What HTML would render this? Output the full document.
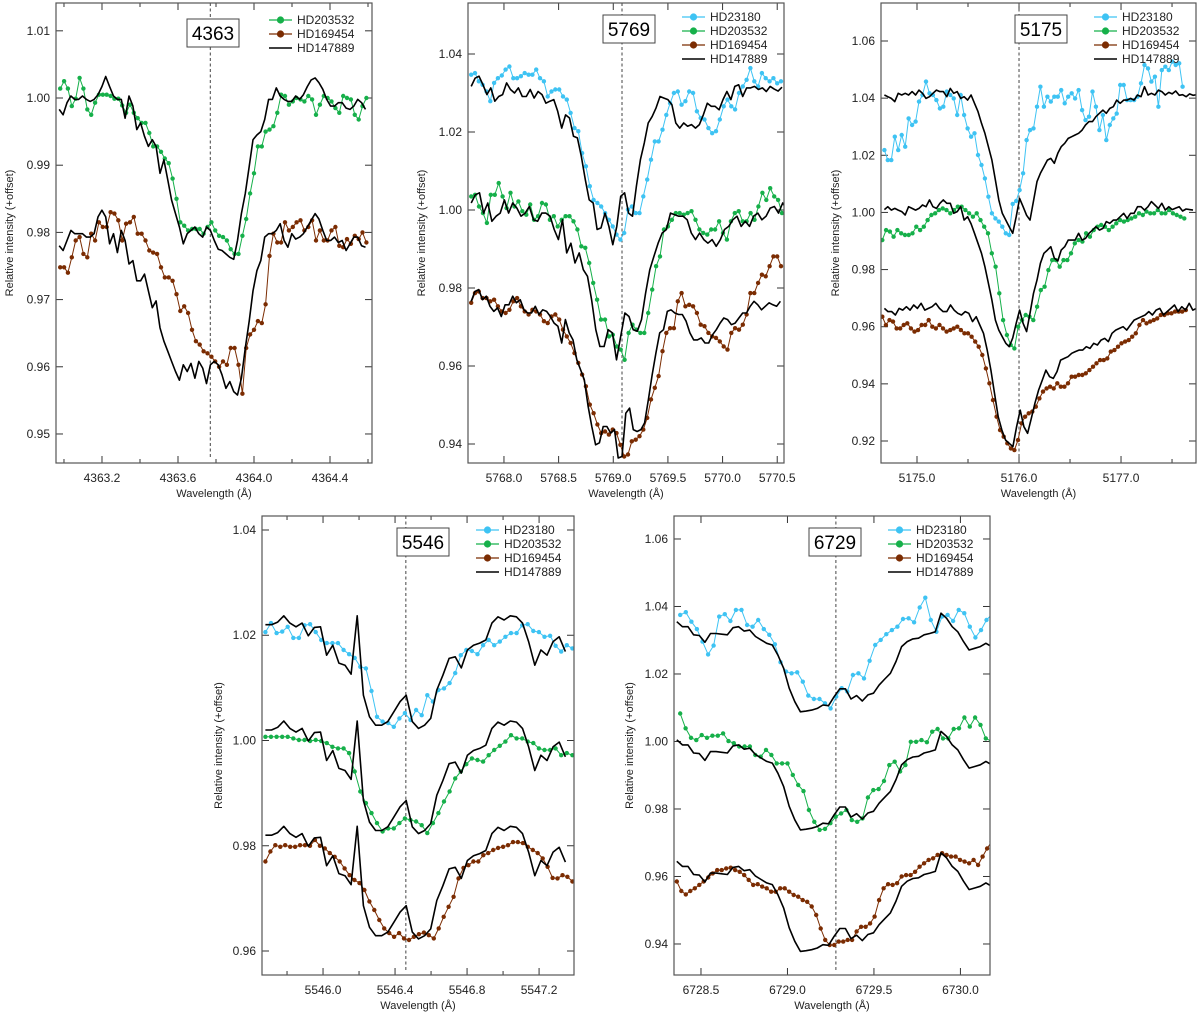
<!DOCTYPE html>
<html><head><meta charset="utf-8"><title>Spectra</title>
<style>
html,body{margin:0;padding:0;background:#fff;}
svg{display:block;font-family:"Liberation Sans",sans-serif;}
</style></head>
<body>
<svg id="chart" xmlns="http://www.w3.org/2000/svg" width="1200" height="1017" viewBox="0 0 1200 1017"></svg>
<script>
// ---------- DATA ----------
// Panel 4363
const p1Green = [1.0014,1.0025,1.0014,0.9988,0.9999,1.0030,1.0014,0.9983,0.9975,0.9993,1.0005,1.0005,1.0005,1.0003,0.9999,0.9999,0.9989,0.9978,0.9990,0.9978,0.9970,0.9963,0.9963,0.9948,0.9928,0.9928,0.9920,0.9910,0.9903,0.9880,0.9850,0.9815,0.9810,0.9803,0.9805,0.9805,0.9805,0.9798,0.9808,0.9815,0.9803,0.9795,0.9793,0.9788,0.9775,0.9768,0.9768,0.9795,0.9820,0.9858,0.9888,0.9928,0.9928,0.9950,0.9953,0.9958,0.9978,1.0005,1.0003,0.9990,0.9995,1.0000,0.9998,0.9995,1.0003,0.9998,0.9975,0.9990,1.0003,1.0000,0.9995,0.9985,0.9978,1.0003,1.0000,0.9998,0.9975,0.9968,0.9988,1.0000];
const p1BlackTop = [0.9983,0.9975,0.9993,1.0003,0.9998,0.9998,1.0003,0.9998,0.9995,0.9998,1.0005,1.0017,1.0032,1.0017,1.0003,0.9998,0.9998,0.9970,1.0003,0.9988,0.9953,0.9963,0.9943,0.9928,0.9938,0.9928,0.9888,0.9908,0.9878,0.9848,0.9828,0.9808,0.9783,0.9798,0.9803,0.9808,0.9798,0.9793,0.9808,0.9803,0.9788,0.9775,0.9773,0.9768,0.9763,0.9760,0.9788,0.9828,0.9858,0.9898,0.9938,0.9945,0.9950,0.9968,0.9998,0.9998,1.0015,1.0003,0.9998,0.9995,0.9995,1.0003,0.9998,1.0005,1.0017,1.0027,1.0030,1.0023,1.0013,0.9998,0.9988,0.9988,0.9993,0.9993,0.9985,0.9983,0.9988,0.9998,0.9993,0.9983];
const p1Brown = [0.9748,0.9748,0.9740,0.9763,0.9788,0.9793,0.9768,0.9763,0.9798,0.9788,0.9815,0.9808,0.9808,0.9830,0.9828,0.9818,0.9788,0.9813,0.9815,0.9823,0.9798,0.9798,0.9788,0.9773,0.9770,0.9768,0.9748,0.9733,0.9733,0.9728,0.9708,0.9683,0.9690,0.9680,0.9655,0.9638,0.9633,0.9623,0.9620,0.9615,0.9608,0.9600,0.9608,0.9603,0.9628,0.9628,0.9603,0.9560,0.9628,0.9648,0.9655,0.9668,0.9665,0.9693,0.9765,0.9798,0.9785,0.9785,0.9815,0.9803,0.9808,0.9815,0.9818,0.9803,0.9808,0.9818,0.9788,0.9803,0.9788,0.9788,0.9803,0.9808,0.9780,0.9778,0.9790,0.9783,0.9795,0.9790,0.9800,0.9785];
const p1BlackLow = [0.9780,0.9773,0.9788,0.9803,0.9798,0.9798,0.9798,0.9793,0.9793,0.9798,0.9823,0.9833,0.9823,0.9783,0.9798,0.9770,0.9803,0.9788,0.9753,0.9758,0.9728,0.9728,0.9738,0.9713,0.9688,0.9698,0.9658,0.9638,0.9623,0.9608,0.9593,0.9580,0.9603,0.9593,0.9605,0.9583,0.9608,0.9598,0.9575,0.9603,0.9608,0.9603,0.9588,0.9568,0.9578,0.9563,0.9558,0.9583,0.9628,0.9668,0.9713,0.9743,0.9758,0.9793,0.9798,0.9798,0.9803,0.9813,0.9788,0.9778,0.9798,0.9790,0.9793,0.9798,0.9808,0.9818,0.9828,0.9820,0.9803,0.9788,0.9788,0.9793,0.9785,0.9788,0.9773,0.9783,0.9793,0.9793,0.9780,0.9778];
// Panel 5769
const p2Cyan = [1.0347,1.0351,1.0330,1.0321,1.0304,1.0279,1.0326,1.0338,1.0345,1.0360,1.0368,1.0338,1.0338,1.0343,1.0351,1.0347,1.0347,1.0360,1.0338,1.0330,1.0291,1.0304,1.0309,1.0309,1.0291,1.0283,1.0249,1.0210,1.0202,1.0146,1.0112,1.0061,1.0026,1.0018,1.0009,0.9992,0.9975,0.9958,0.9937,0.9924,0.9941,1.0001,1.0009,0.9992,0.9992,1.0035,1.0078,1.0129,1.0176,1.0176,1.0206,1.0244,1.0274,1.0300,1.0304,1.0270,1.0279,1.0304,1.0300,1.0253,1.0236,1.0232,1.0210,1.0197,1.0202,1.0232,1.0266,1.0283,1.0266,1.0258,1.0300,1.0317,1.0334,1.0364,1.0330,1.0317,1.0351,1.0338,1.0330,1.0338,1.0325,1.0330];
const p2BlackTop = [1.0317,1.0338,1.0343,1.0321,1.0296,1.0313,1.0279,1.0291,1.0296,1.0326,1.0309,1.0300,1.0313,1.0291,1.0291,1.0309,1.0287,1.0304,1.0296,1.0274,1.0279,1.0283,1.0253,1.0210,1.0244,1.0236,1.0189,1.0185,1.0138,1.0078,1.0026,1.0018,0.9950,0.9954,0.9992,0.9958,0.9911,0.9958,1.0035,1.0044,0.9992,0.9984,1.0061,1.0129,1.0172,1.0223,1.0240,1.0262,1.0291,1.0287,1.0283,1.0270,1.0223,1.0210,1.0223,1.0215,1.0219,1.0210,1.0219,1.0244,1.0274,1.0266,1.0266,1.0257,1.0283,1.0304,1.0283,1.0317,1.0321,1.0291,1.0313,1.0313,1.0317,1.0309,1.0313,1.0304,1.0317,1.0310,1.0305,1.0315];
const p2Green = [1.0035,1.0039,1.0009,0.9992,0.9967,1.0039,1.0039,1.0069,1.0035,1.0005,1.0044,1.0009,1.0022,0.9997,0.9988,1.0014,0.9975,0.9984,1.0018,1.0014,0.9975,0.9984,0.9958,0.9975,0.9984,0.9984,0.9971,0.9950,0.9907,0.9903,0.9864,0.9813,0.9770,0.9719,0.9719,0.9676,0.9680,0.9650,0.9642,0.9616,0.9685,0.9706,0.9693,0.9685,0.9685,0.9736,0.9796,0.9856,0.9881,0.9950,0.9958,0.9975,0.9992,0.9992,0.9988,0.9992,0.9997,0.9975,0.9950,0.9941,0.9937,0.9950,0.9950,0.9971,0.9941,0.9924,0.9971,0.9992,0.9997,0.9971,0.9971,0.9992,0.9975,1.0009,1.0044,1.0026,1.0056,1.0035,1.0026,0.9992];
const p2BlackMid = [1.0018,1.0039,1.0044,0.9992,1.0018,0.9971,0.9984,0.9992,1.0026,0.9992,1.0018,1.0005,0.9984,0.9992,1.0009,0.9975,0.9971,0.9992,0.9992,0.9984,0.9950,0.9924,0.9975,0.9890,0.9915,0.9864,0.9890,0.9847,0.9830,0.9770,0.9693,0.9650,0.9650,0.9693,0.9685,0.9616,0.9676,0.9736,0.9727,0.9693,0.9689,0.9719,0.9787,0.9847,0.9881,0.9915,0.9941,0.9950,0.9992,0.9988,0.9984,0.9984,0.9975,0.9941,0.9924,0.9941,0.9924,0.9915,0.9924,0.9907,0.9924,0.9950,0.9958,0.9975,0.9984,0.9958,0.9971,0.9958,0.9984,0.9992,0.9975,0.9984,1.0005,1.0009,0.9992,1.0018,1.0001,0.9992,0.9997,1.0014];
const p2Brown = [0.9762,0.9787,0.9791,0.9774,0.9774,0.9766,0.9770,0.9753,0.9740,0.9736,0.9744,0.9766,0.9774,0.9753,0.9740,0.9732,0.9744,0.9740,0.9732,0.9715,0.9710,0.9727,0.9732,0.9719,0.9693,0.9676,0.9659,0.9633,0.9608,0.9578,0.9548,0.9501,0.9479,0.9450,0.9428,0.9432,0.9424,0.9437,0.9428,0.9398,0.9368,0.9373,0.9407,0.9411,0.9420,0.9437,0.9467,0.9514,0.9544,0.9574,0.9638,0.9685,0.9697,0.9697,0.9766,0.9787,0.9753,0.9757,0.9753,0.9736,0.9706,0.9702,0.9685,0.9676,0.9672,0.9663,0.9650,0.9642,0.9685,0.9697,0.9693,0.9706,0.9732,0.9787,0.9787,0.9813,0.9834,0.9830,0.9856,0.9881,0.9881,0.9856];
const p2BlackLow = [0.9766,0.9791,0.9796,0.9770,0.9779,0.9753,0.9740,0.9749,0.9727,0.9757,0.9757,0.9779,0.9762,0.9770,0.9744,0.9736,0.9736,0.9753,0.9732,0.9744,0.9740,0.9727,0.9710,0.9702,0.9659,0.9719,0.9685,0.9667,0.9616,0.9591,0.9565,0.9497,0.9445,0.9398,0.9403,0.9445,0.9445,0.9428,0.9437,0.9364,0.9368,0.9479,0.9492,0.9437,0.9432,0.9437,0.9454,0.9514,0.9578,0.9633,0.9685,0.9693,0.9740,0.9744,0.9736,0.9732,0.9732,0.9715,0.9685,0.9667,0.9667,0.9672,0.9659,0.9659,0.9680,0.9693,0.9710,0.9723,0.9719,0.9706,0.9710,0.9723,0.9736,0.9736,0.9753,0.9766,0.9757,0.9744,0.9753,0.9762,0.9757,0.9753,0.9766];
// Panel 5175
const p3Cyan = [1.0218,1.0183,1.0183,1.0265,1.0218,1.0271,1.0230,1.0329,1.0306,1.0318,1.0388,1.0411,1.0458,1.0417,1.0411,1.0393,1.0364,1.0370,1.0423,1.0411,1.0399,1.0341,1.0411,1.0341,1.0294,1.0265,1.0277,1.0201,1.0166,1.0119,1.0055,0.9997,0.9979,0.9968,0.9950,0.9927,0.9921,1.0030,1.0040,1.0078,1.0137,1.0253,1.0288,1.0294,1.0370,1.0440,1.0370,1.0405,1.0388,1.0405,1.0405,1.0428,1.0382,1.0405,1.0417,1.0399,1.0428,1.0358,1.0323,1.0335,1.0423,1.0370,1.0288,1.0341,1.0253,1.0306,1.0329,1.0346,1.0446,1.0446,1.0393,1.0393,1.0393,1.0405,1.0452,1.0516,1.0504,1.0458,1.0475,1.0370,1.0498,1.0510,1.0498,1.0528,1.0516,1.0522,1.0440];
const p3BlackTop = [1.0411,1.0405,1.0399,1.0388,1.0417,1.0411,1.0417,1.0411,1.0423,1.0411,1.0428,1.0417,1.0399,1.0405,1.0417,1.0428,1.0423,1.0423,1.0405,1.0434,1.0417,1.0423,1.0399,1.0405,1.0393,1.0411,1.0382,1.0353,1.0312,1.0277,1.0230,1.0183,1.0113,1.0044,0.9997,0.9973,0.9950,0.9927,0.9985,1.0049,1.0020,0.9990,0.9973,1.0040,1.0108,1.0137,1.0160,1.0183,1.0189,1.0172,1.0207,1.0230,1.0242,1.0259,1.0265,1.0271,1.0277,1.0288,1.0306,1.0318,1.0318,1.0335,1.0347,1.0358,1.0347,1.0364,1.0370,1.0393,1.0382,1.0393,1.0393,1.0399,1.0393,1.0411,1.0405,1.0440,1.0411,1.0417,1.0411,1.0428,1.0423,1.0411,1.0420,1.0415,1.0425,1.0410,1.0412,1.0405,1.0415,1.0410,1.0412];
const p3Green = [0.9903,0.9938,0.9933,0.9915,0.9938,0.9927,0.9921,0.9921,0.9927,0.9950,0.9938,0.9950,0.9973,0.9991,0.9997,1.0008,1.0014,1.0008,0.9997,1.0008,1.0020,1.0020,1.0008,0.9997,0.9985,0.9997,0.9973,0.9950,0.9927,0.9857,0.9810,0.9717,0.9623,0.9571,0.9536,0.9524,0.9600,0.9623,0.9641,0.9635,0.9623,0.9670,0.9728,0.9740,0.9798,0.9833,0.9833,0.9810,0.9833,0.9833,0.9857,0.9892,0.9903,0.9898,0.9927,0.9915,0.9938,0.9950,0.9956,0.9950,0.9938,0.9950,0.9962,0.9973,0.9968,0.9973,0.9979,0.9985,0.9997,0.9991,1.0003,0.9997,0.9997,1.0008,0.9997,0.9997,1.0008,0.9997,0.9991,0.9985,0.9979];
const p3BlackMid = [1.0010,1.0020,1.0008,1.0014,1.0008,1.0003,0.9991,1.0020,1.0014,1.0008,1.0014,1.0026,1.0020,1.0044,1.0020,1.0014,1.0032,1.0044,1.0032,1.0032,0.9997,1.0003,1.0020,0.9973,0.9985,0.9960,0.9927,0.9892,0.9857,0.9810,0.9752,0.9693,0.9623,0.9588,0.9565,0.9542,0.9530,0.9560,0.9612,0.9658,0.9612,0.9583,0.9647,0.9717,0.9763,0.9822,0.9857,0.9868,0.9880,0.9840,0.9830,0.9868,0.9880,0.9903,0.9903,0.9903,0.9927,0.9903,0.9909,0.9927,0.9938,0.9950,0.9938,0.9944,0.9968,0.9962,0.9973,0.9973,0.9985,0.9997,0.9979,0.9997,0.9997,1.0020,1.0020,1.0008,1.0020,1.0038,1.0026,1.0014,1.0032,1.0008,1.0020,1.0010,1.0015,1.0020,1.0005,1.0012,1.0010,1.0008];
const p3Brown = [0.9635,0.9606,0.9623,0.9618,0.9594,0.9594,0.9606,0.9612,0.9594,0.9583,0.9588,0.9606,0.9606,0.9623,0.9600,0.9594,0.9606,0.9594,0.9583,0.9588,0.9594,0.9600,0.9588,0.9577,0.9577,0.9565,0.9548,0.9530,0.9501,0.9454,0.9402,0.9343,0.9285,0.9238,0.9215,0.9192,0.9174,0.9168,0.9203,0.9262,0.9285,0.9297,0.9303,0.9320,0.9349,0.9373,0.9384,0.9390,0.9384,0.9402,0.9390,0.9390,0.9402,0.9425,0.9425,0.9431,0.9431,0.9437,0.9448,0.9460,0.9472,0.9483,0.9483,0.9489,0.9513,0.9518,0.9530,0.9542,0.9548,0.9553,0.9565,0.9577,0.9606,0.9623,0.9612,0.9618,0.9623,0.9629,0.9641,0.9641,0.9647,0.9647,0.9653,0.9653,0.9653,0.9658];
const p3BlackLow = [0.9664,0.9653,0.9653,0.9641,0.9664,0.9658,0.9670,0.9658,0.9676,0.9664,0.9682,0.9658,0.9664,0.9670,0.9682,0.9664,0.9653,0.9653,0.9676,0.9658,0.9647,0.9641,0.9653,0.9647,0.9618,0.9635,0.9606,0.9577,0.9518,0.9448,0.9367,0.9285,0.9238,0.9203,0.9192,0.9180,0.9250,0.9308,0.9250,0.9227,0.9279,0.9332,0.9378,0.9413,0.9448,0.9425,0.9419,0.9443,0.9483,0.9489,0.9495,0.9507,0.9513,0.9518,0.9518,0.9530,0.9524,0.9542,0.9536,0.9553,0.9559,0.9548,0.9577,0.9588,0.9594,0.9600,0.9588,0.9606,0.9623,0.9629,0.9635,0.9641,0.9653,0.9641,0.9658,0.9664,0.9641,0.9653,0.9664,0.9676,0.9653,0.9670,0.9658,0.9682,0.9658,0.9664];
// Panel 5546
const p4Cyan = [1.0206,1.0223,1.0204,1.0207,1.0216,1.0195,1.0195,1.0219,1.0221,1.0206,1.0191,1.0185,1.0185,1.0185,1.0172,1.0164,1.0157,1.0140,1.0137,1.0094,1.0045,1.0036,1.0033,1.0026,1.0042,1.0052,1.0039,1.0058,1.0048,1.0086,1.0074,1.0096,1.0099,1.0109,1.0128,1.0162,1.0172,1.0170,1.0164,1.0181,1.0191,1.0181,1.0188,1.0197,1.0204,1.0204,1.0219,1.0221,1.0208,1.0206,1.0197,1.0199,1.0180,1.0169,1.0181,1.0175,1.0169];
const p4Green = [1.0007,1.0007,1.0007,1.0007,1.0007,1.0004,1.0001,1.0001,0.9999,1.0001,0.9999,0.9995,0.9988,0.9985,0.9985,0.9976,0.9941,0.9903,0.9881,0.9862,0.9843,0.9827,0.9833,0.9833,0.9843,0.9852,0.9849,0.9846,0.9839,0.9824,0.9843,0.9862,0.9884,0.9903,0.9928,0.9941,0.9955,0.9966,0.9963,0.9960,0.9972,0.9982,0.9990,0.9998,1.0010,1.0004,1.0004,0.9998,0.9995,0.9985,0.9982,0.9982,0.9985,0.9972,0.9976,0.9972];
const p4Brown = [0.9770,0.9789,0.9801,0.9798,0.9801,0.9798,0.9798,0.9801,0.9801,0.9800,0.9811,0.9800,0.9795,0.9786,0.9779,0.9770,0.9757,0.9744,0.9735,0.9729,0.9716,0.9694,0.9678,0.9659,0.9643,0.9634,0.9627,0.9634,0.9624,0.9621,0.9627,0.9632,0.9635,0.9630,0.9624,0.9643,0.9665,0.9684,0.9703,0.9738,0.9758,0.9763,0.9770,0.9770,0.9782,0.9786,0.9792,0.9796,0.9798,0.9801,0.9807,0.9807,0.9805,0.9798,0.9792,0.9786,0.9776,0.9760,0.9739,0.9738,0.9744,0.9741,0.9732];
const p4Black = [1.0220,1.0220,1.0225,1.0237,1.0223,1.0216,1.0223,1.0199,1.0215,1.0216,1.0162,1.0181,1.0147,1.0143,1.0126,1.0237,1.0086,1.0045,1.0029,1.0029,1.0036,1.0055,1.0074,1.0086,1.0036,1.0023,1.0029,1.0042,1.0096,1.0124,1.0156,1.0159,1.0138,1.0172,1.0181,1.0185,1.0191,1.0223,1.0235,1.0229,1.0237,1.0235,1.0223,1.0188,1.0143,1.0172,1.0162,1.0188,1.0197,1.0169];
const p4BlackOffsets = [0, -0.020, -0.040];
// Panel 6729
const p5Cyan = [1.0375,1.0383,1.0355,1.0333,1.0296,1.0258,1.0284,1.0370,1.0377,1.0357,1.0390,1.0390,1.0345,1.0340,1.0360,1.0333,1.0316,1.0288,1.0235,1.0207,1.0202,1.0205,1.0177,1.0136,1.0126,1.0126,1.0113,1.0098,1.0133,1.0158,1.0148,1.0197,1.0202,1.0187,1.0239,1.0286,1.0301,1.0318,1.0330,1.0340,1.0363,1.0365,1.0353,1.0397,1.0426,1.0360,1.0325,1.0370,1.0375,1.0357,1.0390,1.0380,1.0340,1.0308,1.0330,1.0360,1.0377];
const p5Green = [1.0083,1.0039,1.0011,1.0004,1.0019,1.0011,1.0017,1.0017,1.0024,1.0001,0.9995,0.9985,0.9985,0.9985,0.9960,0.9955,0.9975,0.9960,0.9935,0.9935,0.9935,0.9901,0.9871,0.9853,0.9797,0.9762,0.9738,0.9741,0.9758,0.9777,0.9787,0.9797,0.9767,0.9762,0.9772,0.9834,0.9856,0.9859,0.9883,0.9930,0.9940,0.9911,0.9930,0.9999,0.9999,1.0004,0.9998,1.0029,1.0037,1.0009,1.0009,1.0037,1.0039,1.0071,1.0044,1.0071,1.0049,1.0009,1.0001];
const p5Brown = [0.9585,0.9557,0.9547,0.9557,0.9565,0.9575,0.9585,0.9597,0.9609,0.9619,0.9619,0.9624,0.9626,0.9619,0.9614,0.9604,0.9590,0.9575,0.9577,0.9570,0.9565,0.9555,0.9555,0.9565,0.9565,0.9555,0.9545,0.9540,0.9530,0.9525,0.9511,0.9486,0.9446,0.9412,0.9397,0.9397,0.9407,0.9407,0.9412,0.9412,0.9437,0.9451,0.9451,0.9461,0.9481,0.9530,0.9565,0.9577,0.9575,0.9580,0.9600,0.9604,0.9604,0.9614,0.9629,0.9639,0.9649,0.9654,0.9664,0.9669,0.9664,0.9659,0.9659,0.9649,0.9644,0.9639,0.9649,0.9634,0.9659,0.9683,0.9703];
const p5Black = [1.0355,1.0340,1.0340,1.0316,1.0314,1.0294,1.0320,1.0320,1.0318,1.0316,1.0337,1.0340,1.0327,1.0330,1.0311,1.0301,1.0291,1.0286,1.0256,1.0217,1.0158,1.0118,1.0088,1.0090,1.0093,1.0098,1.0108,1.0106,1.0133,1.0156,1.0156,1.0126,1.0136,1.0120,1.0138,1.0143,1.0167,1.0185,1.0202,1.0237,1.0281,1.0296,1.0304,1.0306,1.0316,1.0320,1.0325,1.0380,1.0365,1.0340,1.0325,1.0296,1.0271,1.0276,1.0281,1.0291,1.0281];
const p5BlackOffsets = [0, -0.035, -0.071];

// tick label arrays
const p1XTicks = [4363.2, 4363.6, 4364.0, 4364.4];
const p1YTicks = [0.95, 0.96, 0.97, 0.98, 0.99, 1.00, 1.01];
const p2XTicks = [5768.0, 5768.5, 5769.0, 5769.5, 5770.0, 5770.5];
const p2YTicks = [0.94, 0.96, 0.98, 1.00, 1.02, 1.04];
const p3XTicks = [5175.0, 5176.0, 5177.0];
const p3YTicks = [0.92, 0.94, 0.96, 0.98, 1.00, 1.02, 1.04, 1.06];
const p4XTicks = [5546.0, 5546.4, 5546.8, 5547.2];
const p4YTicks = [0.96, 0.98, 1.00, 1.02, 1.04];
const p5XTicks = [6728.5, 6729.0, 6729.5, 6730.0];
const p5YTicks = [0.94, 0.96, 0.98, 1.00, 1.02, 1.04, 1.06];

// ---------- RENDER ----------
const NS = 'http://www.w3.org/2000/svg';
const svg = document.getElementById('chart');
const COL = {cyan:'#3ec3f3', green:'#16b04a', brown:'#7b2c02', black:'#000'};
function mk(tag, attrs, parent){
  const e = document.createElementNS(NS, tag);
  for (const k in attrs) e.setAttribute(k, attrs[k]);
  (parent||svg).appendChild(e);
  return e;
}

const panels = [
 {id:'4363', box:[56,3,372,463], xd:[4362.958,4364.621], yd:[0.94568,1.01414], xt:p1XTicks, xminor:[4363.0,4363.4,4363.8,4364.2,4364.6], yt:p1YTicks, yfmt:2, dash:4363.77,
  label:[187,19], legend:[269,20], ytitleX:10,
  series:[
   {name:'HD203532', c:'green', v:p1Green, s:4362.98, st:0.0204, m:true},
   {name:'HD169454', c:'brown', v:p1Brown, s:4362.98, st:0.0204, m:true},
   {name:'HD147889', c:'black', v:p1BlackTop, s:4362.975, st:0.0204, m:false},
   {name:'HD147889', c:'black', v:p1BlackLow, s:4362.975, st:0.0204, m:false, nolegend:true}]},
 {id:'5769', box:[468,3,784,463], xd:[5767.671,5770.562], yd:[0.93513,1.05308], xt:p2XTicks, xminor:[], yt:p2YTicks, yfmt:2, dash:5769.08,
  label:[603,15], legend:[682,17], ytitleX:422,
  series:[
   {name:'HD23180', c:'cyan', v:p2Cyan, s:5767.70, st:0.035, m:true},
   {name:'HD203532', c:'green', v:p2Green, s:5767.70, st:0.036, m:true},
   {name:'HD169454', c:'brown', v:p2Brown, s:5767.70, st:0.035, m:true},
   {name:'HD147889', c:'black', v:p2BlackTop, s:5767.70, st:0.036, m:false},
   {name:'HD147889', c:'black', v:p2BlackMid, s:5767.70, st:0.038, m:false, nolegend:true},
   {name:'HD147889', c:'black', v:p2BlackLow, s:5767.70, st:0.0345, m:false, nolegend:true}]},
 {id:'5175', box:[881,3,1196,463], xd:[5174.647,5177.735], yd:[0.9123,1.0733], xt:p3XTicks, xminor:[5175.5,5176.5,5177.5], yt:p3YTicks, yfmt:2, dash:5176.0,
  label:[1015,15], legend:[1094,17], ytitleX:836,
  series:[
   {name:'HD23180', c:'cyan', v:p3Cyan, s:5174.68, st:0.034, m:true},
   {name:'HD203532', c:'green', v:p3Green, s:5174.66, st:0.037, m:true},
   {name:'HD169454', c:'brown', v:p3Brown, s:5174.66, st:0.035, m:true},
   {name:'HD147889', c:'black', v:p3BlackTop, s:5174.68, st:0.034, m:false},
   {name:'HD147889', c:'black', v:p3BlackMid, s:5174.68, st:0.034, m:false, nolegend:true},
   {name:'HD147889', c:'black', v:p3BlackLow, s:5174.68, st:0.036, m:false, nolegend:true}]},
 {id:'5546', box:[262,516,574,975], xd:[5545.661,5547.394], yd:[0.95544,1.04266], xt:p4XTicks, xminor:[5545.8,5546.2,5546.6,5547.0], yt:p4YTicks, yfmt:2, dash:5546.46,
  label:[397,528], legend:[476,530], ytitleX:219,
  series:[
   {name:'HD23180', c:'cyan', v:p4Cyan, s:5545.68, st:0.031, m:true},
   {name:'HD203532', c:'green', v:p4Green, s:5545.68, st:0.031, m:true},
   {name:'HD169454', c:'brown', v:p4Brown, s:5545.68, st:0.0275, m:true},
   {name:'HD147889', c:'black', v:p4Black, off:p4BlackOffsets, s:5545.68, st:0.034, m:false}]},
 {id:'6729', box:[674,516,990,975], xd:[6728.344,6730.171], yd:[0.93081,1.06681], xt:p5XTicks, xminor:[], yt:p5YTicks, yfmt:2, dash:6729.28,
  label:[809,528], legend:[888,530], ytitleX:630,
  series:[
   {name:'HD23180', c:'cyan', v:p5Cyan, s:6728.38, st:0.0322, m:true},
   {name:'HD203532', c:'green', v:p5Green, s:6728.38, st:0.031, m:true},
   {name:'HD169454', c:'brown', v:p5Brown, s:6728.36, st:0.026, m:true},
   {name:'HD147889', c:'black', v:p5Black, off:p5BlackOffsets, s:6728.36, st:0.0325, m:false}]}
];

panels.forEach((p, pi) => {
  const [x0,y0,x1,y1] = p.box;
  const X = w => x0 + (w - p.xd[0]) / (p.xd[1]-p.xd[0]) * (x1-x0);
  const Y = v => y1 - (v - p.yd[0]) / (p.yd[1]-p.yd[0]) * (y1-y0);
  const g = mk('g', {});
  
  
  const clipId = 'clip' + pi;
  const cp = mk('clipPath', {id:clipId}, g);
  mk('rect', {x:x0, y:y0, width:x1-x0, height:y1-y0}, cp);

  // ticks
  const tg = mk('g', {stroke:'#333', 'stroke-width':1}, g);
  
  
  p.xt.forEach(t => {
    const x = X(t);
    mk('line', {x1:x, y1:y1, x2:x, y2:y1-7}, tg);
    mk('line', {x1:x, y1:y0, x2:x, y2:y0+7}, tg);
    const lab = mk('text', {x:x, y:y1+19, 'text-anchor':'middle', 'font-size':12, fill:'#222', stroke:'none'}, g);
    lab.textContent = t.toFixed(1);
    
    
  });
  p.xminor.forEach(t => {
    const x = X(t);
    mk('line', {x1:x, y1:y1, x2:x, y2:y1-4}, tg);
    mk('line', {x1:x, y1:y0, x2:x, y2:y0+4}, tg);
  });
  p.yt.forEach(t => {
    const y = Y(t);
    mk('line', {x1:x0, y1:y, x2:x0+7, y2:y}, tg);
    mk('line', {x1:x1, y1:y, x2:x1-7, y2:y}, tg);
    const lab = mk('text', {x:x0-6, y:y+4, 'text-anchor':'end', 'font-size':12, fill:'#222'}, g);
    lab.textContent = t.toFixed(p.yfmt);
    
    
  });

  // titles
  const xt = mk('text', {x:(x0+x1)/2, y:y1+34, 'text-anchor':'middle', 'font-size':11, fill:'#222'}, g);
  xt.textContent = 'Wavelength (\u00C5)';
  
  
  const cy = (y0+y1)/2;
  const yt = mk('text', {x:p.ytitleX, y:cy, 'text-anchor':'middle', 'font-size':11, fill:'#222', transform:'rotate(-90 ' + p.ytitleX + ' ' + cy + ')', 'dominant-baseline':'middle'}, g);
  yt.textContent = 'Relative intensity (+offset)';
  
  

  // dashed reference line
  const dl = mk('line', {x1:X(p.dash), y1:y0, x2:X(p.dash), y2:y1-5, stroke:'#444', 'stroke-width':1, 'stroke-dasharray':'3,2.5'}, g);
  
  

  // series
  const sg = mk('g', {'clip-path':'url(#' + clipId + ')'}, g);
  p.series.forEach(s => {
    const offs = s.off || [0];
    offs.forEach(o => {
      const pts = s.v.map((v, i) => X(s.s + i*s.st).toFixed(1) + ',' + Y(v + o).toFixed(1)).join(' ');
      const pl = mk('polyline', {points:pts, fill:'none', stroke:COL[s.c], 'stroke-width': s.m ? 1 : 1.6, 'stroke-linejoin':'round'}, sg);
      
      
      if (s.m) {
        s.v.forEach((v, i) => {
          const c = mk('circle', {cx:X(s.s + i*s.st).toFixed(1), cy:Y(v + o).toFixed(1), r:2.2, fill:COL[s.c]}, sg);
          
          
        });
      }
    });
  });

  // frame
  const fr = mk('rect', {x:x0, y:y0, width:x1-x0, height:y1-y0, fill:'none', stroke:'#555', 'stroke-width':1.2}, g);
  
  

  // label box
  const lb = mk('g', {}, g);
  
  
  mk('rect', {x:p.label[0], y:p.label[1], width:52, height:28, fill:'#fff', stroke:'#444', 'stroke-width':1}, lb);
  const lt = mk('text', {x:p.label[0]+26, y:p.label[1]+21, 'text-anchor':'middle', 'font-size':19, fill:'#000'}, lb);
  lt.textContent = p.id;

  // legend
  const lg = mk('g', {}, g);
  
  
  let k = 0;
  p.series.forEach(s => {
    if (s.nolegend) return;
    const ly = p.legend[1] + k*14;
    const lx = p.legend[0];
    const e = mk('g', {}, lg);
    
    
    mk('line', {x1:lx, y1:ly, x2:lx+23, y2:ly, stroke:COL[s.c], 'stroke-width': s.m ? 1.2 : 1.6}, e);
    if (s.m) mk('circle', {cx:lx+11.5, cy:ly, r:3.6, fill:COL[s.c]}, e);
    const t = mk('text', {x:lx+28, y:ly+4, 'font-size':12, fill:'#222'}, e);
    t.textContent = s.name;
    k++;
  });
});
</script>
</body></html>
